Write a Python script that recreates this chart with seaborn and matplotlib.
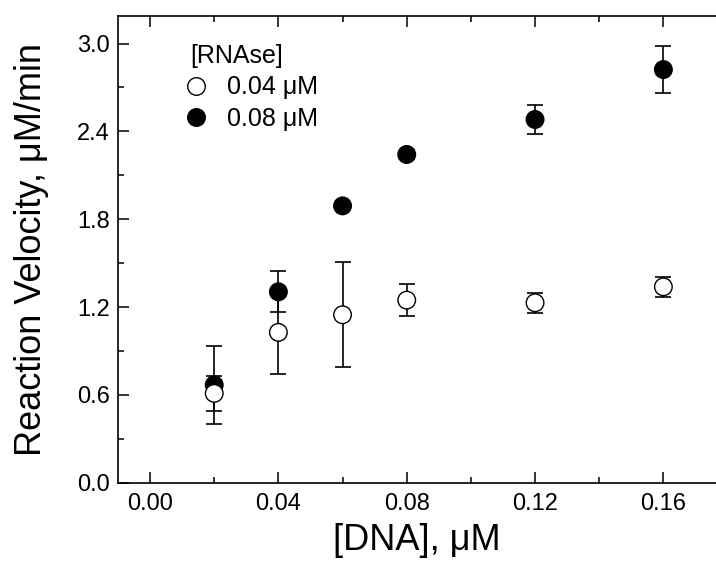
import numpy as np
import matplotlib
matplotlib.use("Agg")
import matplotlib.pyplot as plt
import pandas as pd
import seaborn as sns
from matplotlib.ticker import MultipleLocator, FormatStrFormatter

# data
dna = [0.02, 0.04, 0.06, 0.08, 0.12, 0.16]
# 0.04 uM RNAse (open circles)
v_low = [0.61, 1.027, 1.147, 1.247, 1.229, 1.338]
e_low = [0.122, 0.287, 0.358, 0.108, 0.07, 0.068]
# 0.08 uM RNAse (filled circles)
v_high = [0.668, 1.304, 1.891, 2.242, 2.481, 2.822]
e_high = [0.267, 0.14, 0.02, 0.03, 0.1, 0.158]

labels = ["0.08 μM", "0.04 μM"]

df = pd.DataFrame({
    "dna": dna + dna,
    "v": v_high + v_low,
    "err": e_high + e_low,
    "rnase": [labels[0]] * len(dna) + [labels[1]] * len(dna),
})

sns.set_theme(style="ticks")
plt.rcParams['font.family'] = ['Liberation Sans', 'DejaVu Sans']
plt.rcParams['text.color'] = 'black'
plt.rcParams['axes.labelcolor'] = 'black'
plt.rcParams['xtick.color'] = 'black'
plt.rcParams['ytick.color'] = 'black'

fig = plt.figure(figsize=(7.16, 5.63), dpi=100)
ax = fig.add_axes([118.3 / 716, 80.3 / 563, 1 - 118.3 / 716, (482.7 - 15.7) / 563])

# error bars under the markers
ax.errorbar(df["dna"], df["v"], yerr=df["err"], fmt="none", ecolor="black",
            elinewidth=1.2, capsize=6, capthick=1.2, zorder=1.5)

sns.scatterplot(data=df, x="dna", y="v", hue="rnase",
                hue_order=["0.04 μM", "0.08 μM"],
                palette={"0.04 μM": "white", "0.08 μM": "black"},
                edgecolor="black", linewidth=1.0, s=160, zorder=3, ax=ax)

ax.set_xlim(-0.0099, 0.1764)
ax.set_ylim(0, 3.19)

ax.xaxis.set_major_locator(MultipleLocator(0.04))
ax.xaxis.set_minor_locator(MultipleLocator(0.02))
ax.yaxis.set_major_locator(MultipleLocator(0.6))
ax.yaxis.set_minor_locator(MultipleLocator(0.3))
ax.xaxis.set_major_formatter(FormatStrFormatter("%.2f"))
ax.yaxis.set_major_formatter(FormatStrFormatter("%.1f"))

ax.tick_params(which="both", direction="in", top=True, right=False,
               width=1.1, color="black")
ax.tick_params(which="major", length=8, labelsize=17)
ax.tick_params(axis="x", which="major", pad=7.5)
ax.tick_params(axis="y", which="major", pad=6)
ax.tick_params(which="minor", length=4.5)

for s in ["left", "bottom", "top"]:
    ax.spines[s].set_linewidth(1.2)
    ax.spines[s].set_color("black")
ax.spines["right"].set_visible(False)

ax.set_xlabel("[DNA], μM", fontsize=26, labelpad=6)
ax.set_ylabel("Reaction Velocity, μM/min", fontsize=26, labelpad=20)

leg = ax.legend(title="[RNAse]", loc="upper left",
                bbox_to_anchor=(0.103, 0.961), borderaxespad=0,
                frameon=False, fontsize=18, title_fontsize=18,
                handlelength=0.5, handletextpad=1.0,
                labelspacing=0.3, alignment="left")

fig.savefig("out.png", dpi=100)
